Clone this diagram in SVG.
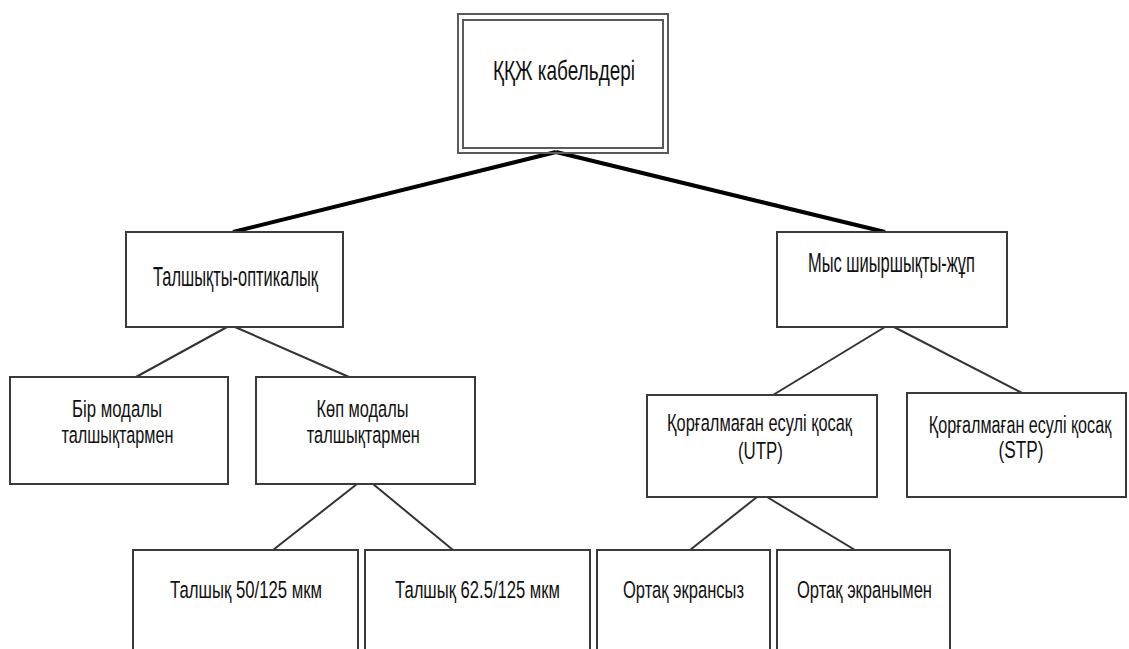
<svg xmlns="http://www.w3.org/2000/svg" width="1129" height="649" viewBox="0 0 1129 649">
<style>
.box{fill:#fff;stroke:#3a3a3a;stroke-width:2}
.dbl{fill:none;stroke:#5a5a5a;stroke-width:2}
.t{font-family:"Liberation Sans Narrow","Liberation Sans",Arial,sans-serif;fill:#111;text-anchor:middle}
.big{font-size:28px}
.sm{font-size:24.5px}
.thick{stroke:#000;stroke-width:4;fill:none}
.thin{stroke:#333;stroke-width:2;fill:none}
</style>
<rect width="1129" height="649" fill="#fff"/>
<g id="connectors">
<line class="thick" x1="556" y1="152" x2="233" y2="232"/>
<line class="thick" x1="556" y1="152" x2="885" y2="232"/>
<line class="thin" x1="227" y1="327" x2="136" y2="377"/>
<line class="thin" x1="235" y1="327" x2="349" y2="377"/>
<line class="thin" x1="885" y1="327" x2="773" y2="395"/>
<line class="thin" x1="894" y1="327" x2="1022" y2="393"/>
<line class="thin" x1="357" y1="484" x2="273" y2="550"/>
<line class="thin" x1="373" y1="484" x2="453" y2="550"/>
<line class="thin" x1="757" y1="497" x2="690" y2="550"/>
<line class="thin" x1="767" y1="497" x2="855" y2="550"/>
</g>
<g id="root">
<rect x="458" y="14" width="210" height="139" fill="#fff" class="dbl"/>
<rect x="463" y="20" width="200" height="128" class="dbl"/>
<text class="t big" x="564" y="80" textLength="142" lengthAdjust="spacingAndGlyphs">ҚҚЖ кабельдері</text>
</g>
<g id="fiber">
<rect class="box" x="126" y="232" width="217" height="95"/>
<text class="t big" x="235.5" y="286" textLength="165" lengthAdjust="spacingAndGlyphs">Талшықты-оптикалық</text>
</g>
<g id="copper">
<rect class="box" x="777" y="232" width="230" height="95"/>
<text class="t big" x="891.5" y="272" textLength="167" lengthAdjust="spacingAndGlyphs">Мыс шиыршықты-жұп</text>
</g>
<g id="single">
<rect class="box" x="10" y="377" width="218" height="107"/>
<text class="t sm" x="117" y="417" textLength="90" lengthAdjust="spacingAndGlyphs">Бір модалы</text>
<text class="t sm" x="117.5" y="443" textLength="112" lengthAdjust="spacingAndGlyphs">талшықтармен</text>
</g>
<g id="multi">
<rect class="box" x="256" y="377" width="219" height="107"/>
<text class="t sm" x="362.5" y="417" textLength="92" lengthAdjust="spacingAndGlyphs">Көп модалы</text>
<text class="t sm" x="363.3" y="443" textLength="113" lengthAdjust="spacingAndGlyphs">талшықтармен</text>
</g>
<g id="utp">
<rect class="box" x="647" y="395" width="230" height="102"/>
<text class="t sm" x="759.5" y="431" textLength="185" lengthAdjust="spacingAndGlyphs">Қорғалмаған есулі қосақ</text>
<text class="t sm" x="760.5" y="459" textLength="45" lengthAdjust="spacingAndGlyphs">(UTP)</text>
</g>
<g id="stp">
<rect class="box" x="907" y="393" width="219" height="104"/>
<text class="t sm" transform="translate(1020,433) scale(0.8,1)" x="0" y="0" textLength="228" lengthAdjust="spacingAndGlyphs">Қорғалмаған есулі қосақ</text>
<text class="t sm" x="1021" y="458" textLength="45" lengthAdjust="spacingAndGlyphs">(STP)</text>
</g>
<g id="f50">
<rect class="box" x="133" y="550" width="225" height="110"/>
<text class="t sm" x="246" y="598" textLength="152" lengthAdjust="spacingAndGlyphs">Талшық 50/125 мкм</text>
</g>
<g id="f62">
<rect class="box" x="365" y="550" width="225" height="110"/>
<text class="t sm" x="477.5" y="598" textLength="165" lengthAdjust="spacingAndGlyphs">Талшық 62.5/125 мкм</text>
</g>
<g id="noscreen">
<rect class="box" x="597" y="550" width="173" height="110"/>
<text class="t sm" x="683.5" y="598" textLength="121" lengthAdjust="spacingAndGlyphs">Ортақ экрансыз</text>
</g>
<g id="screen">
<rect class="box" x="777" y="550" width="173" height="110"/>
<text class="t sm" x="864.5" y="598" textLength="135" lengthAdjust="spacingAndGlyphs">Ортақ экранымен</text>
</g>
</svg>
